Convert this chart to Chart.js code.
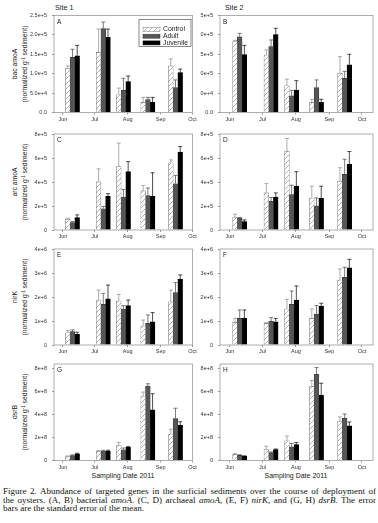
<!DOCTYPE html>
<html lang="en">
<head>
<meta charset="UTF-8">
<title>Figure 2 - gene abundance</title>
<script src="https://cdn.jsdelivr.net/npm/chart.js@4.4.1/dist/chart.umd.min.js"></script>
<style>
  html, body { margin: 0; padding: 0; background: #fff; }
  body { width: 378px; height: 523px; position: relative; overflow: hidden;
         font-family: 'Liberation Sans', Arial, sans-serif; color: #222; }
  canvas { position: absolute; }
  .lbl { position: absolute; white-space: nowrap; line-height: 1; }
  .site { font-size: 7.2px; }
  .xtitle { font-size: 7px; transform: translateX(-50%); }
  .ytitle { position: absolute; width: 120px; height: 20px; line-height: 10px; font-size: 6.8px;
            text-align: center; white-space: nowrap; transform: rotate(-90deg); }
  .ytitle sup { font-size: 4.5px; vertical-align: 2px; line-height: 0; }
  .caption { position: absolute; left: 3px; top: 487px; width: 373px;
             font-family: 'Liberation Serif', 'Times New Roman', serif; font-size: 9px; line-height: 8.5px; color: #111; }
  .caption div { white-space: nowrap; }
  .caption .j { text-align: justify; text-align-last: justify; white-space: normal; }
</style>
</head>
<body>

<div class="lbl site" style="left:55px; top:4px;">Site 1</div>
<div class="lbl site" style="left:225px; top:4px;">Site 2</div>

<div class="ytitle" style="left:-40px; top:54px;">bac amoA<br>(normalized g<sup>-1</sup> sediment)</div>
<div class="ytitle" style="left:-40px; top:172px;">arc amoA<br>(normalized g<sup>-1</sup> sediment)</div>
<div class="ytitle" style="left:-40px; top:287px;">nirK<br>(normalized g<sup>-1</sup> sediment)</div>
<div class="ytitle" style="left:-40px; top:402px;">dsrB<br>(normalized g<sup>-1</sup> sediment)</div>

<div class="lbl xtitle" style="left:123px; top:472px;">Sampling Date 2011</div>
<div class="lbl xtitle" style="left:296px; top:472px;">Sampling Date 2011</div>

<div class="caption">
  <div class="j">Figure 2. Abundance of targeted genes in the surficial sediments over the course of deployment of</div>
  <div class="j">the oysters. (A, B) bacterial <i>amoA</i>. (C, D) archaeal <i>amoA</i>, (E, F) <i>nirK</i>, and (G, H) <i>dsrB</i>. The error</div>
  <div>bars are the standard error of the mean.</div>
</div>

<script>
// sampling dates, day of year 2011
const sampleDays = [161, 190, 209, 232, 258];
const monthDays = [152, 182, 213, 244, 274];
const monthLabels = ['Jun', 'Jul', 'Aug', 'Sep', 'Oct'];

// y tick values and labels per gene
const bacTicks = [0, 5e4, 1e5, 1.5e5, 2e5, 2.5e5];
const bacTickLabels = ['0.0', '5.0e+4', '1.0e+5', '1.5e+5', '2.0e+5', '2.5e+5'];
const arcTicks = [0, 2e5, 4e5, 6e5, 8e5];
const arcTickLabels = ['0', '2e+5', '4e+5', '6e+5', '8e+5'];
const nirTicks = [0, 1e6, 2e6, 3e6, 4e6];
const nirTickLabels = ['0', '1e+6', '2e+6', '3e+6', '4e+6'];
const dsrTicks = [0, 2e8, 4e8, 6e8, 8e8];
const dsrTickLabels = ['0', '2e+8', '4e+8', '6e+8', '8e+8'];

// A - bacterial amoA, site 1
const bacS1Control = [1.14e5, 1.55e5, 0.455e5, 0.26e5, 1.20e5];
const bacS1ControlSE = [0.06e5, 0.60e5, 0.175e5, 0.13e5, 0.18e5];
const bacS1Adult = [1.42e5, 2.16e5, 0.57e5, 0.33e5, 0.64e5];
const bacS1AdultSE = [0.21e5, 0.17e5, 0.31e5, 0.06e5, 0.20e5];
const bacS1Juvenile = [1.46e5, 1.94e5, 0.80e5, 0.26e5, 1.03e5];
const bacS1JuvenileSE = [0.27e5, 0.21e5, 0.14e5, 0.13e5, 0.09e5];

// B - bacterial amoA, site 2
const bacS2Control = [1.83e5, 1.48e5, 0.69e5, 0.26e5, 1.01e5];
const bacS2ControlSE = [0.03e5, 0.13e5, 0.17e5, 0.08e5, 0.43e5];
const bacS2Adult = [1.95e5, 1.70e5, 0.43e5, 0.64e5, 0.88e5];
const bacS2AdultSE = [0.09e5, 0.17e5, 0.14e5, 0.20e5, 0.18e5];
const bacS2Juvenile = [1.49e5, 2.01e5, 0.58e5, 0.26e5, 1.23e5];
const bacS2JuvenileSE = [0.24e5, 0.16e5, 0.24e5, 0.08e5, 0.27e5];

// C - archaeal amoA, site 1
const arcS1Control = [0.90e5, 4.01e5, 5.28e5, 3.26e5, 5.60e5];
const arcS1ControlSE = [0.08e5, 1.09e5, 1.96e5, 0.44e5, 0.24e5];
const arcS1Adult = [0.62e5, 1.77e5, 2.75e5, 2.86e5, 3.85e5];
const arcS1AdultSE = [0.08e5, 0.19e5, 0.62e5, 0.64e5, 0.70e5];
const arcS1Juvenile = [1.04e5, 2.80e5, 4.86e5, 2.80e5, 6.50e5];
const arcS1JuvenileSE = [0.22e5, 0.23e5, 0.84e5, 1.97e5, 0.46e5];

// D - archaeal amoA, site 2
const arcS2Control = [1.07e5, 3.09e5, 6.57e5, 2.67e5, 4.07e5];
const arcS2ControlSE = [0.25e5, 0.78e5, 1.06e5, 0.98e5, 1.12e5];
const arcS2Adult = [0.98e5, 2.39e5, 2.95e5, 2.02e5, 4.63e5];
const arcS2AdultSE = [0.06e5, 0.33e5, 0.78e5, 0.65e5, 1.27e5];
const arcS2Juvenile = [0.70e5, 2.75e5, 3.65e5, 2.64e5, 5.47e5];
const arcS2JuvenileSE = [0.14e5, 0.34e5, 1.21e5, 1.01e5, 1.07e5];

// E - nirK, site 1
const nirS1Control = [0.51e6, 1.875e6, 1.83e6, 0.79e6, 1.80e6];
const nirS1ControlSE = [0.09e6, 0.415e6, 0.28e6, 0.25e6, 0.49e6];
const nirS1Adult = [0.56e6, 1.69e6, 1.50e6, 0.90e6, 2.18e6];
const nirS1AdultSE = [0.07e6, 0.46e6, 0.14e6, 0.35e6, 0.42e6];
const nirS1Juvenile = [0.44e6, 1.92e6, 1.64e6, 0.97e6, 2.74e6];
const nirS1JuvenileSE = [0.09e6, 0.58e6, 0.235e6, 0.38e6, 0.18e6];

// F - nirK, site 2
const nirS2Control = [0.94e6, 0.90e6, 1.50e6, 1.11e6, 2.71e6];
const nirS2ControlSE = [0.17e6, 0.04e6, 0.40e6, 0.39e6, 0.46e6];
const nirS2Adult = [1.11e6, 1.00e6, 1.69e6, 1.29e6, 2.82e6];
const nirS2AdultSE = [0.35e6, 0.14e6, 0.56e6, 0.35e6, 0.42e6];
const nirS2Juvenile = [1.11e6, 0.97e6, 1.875e6, 1.625e6, 3.22e6];
const nirS2JuvenileSE = [0.35e6, 0.14e6, 0.585e6, 0.115e6, 0.35e6];

// G - dsrB, site 1
const dsrS1Control = [0.35e8, 0.81e8, 1.30e8, 5.61e8, 2.30e8];
const dsrS1ControlSE = [0.05e8, 0.05e8, 0.28e8, 0.35e8, 0.43e8];
const dsrS1Adult = [0.43e8, 0.83e8, 0.92e8, 6.48e8, 3.65e8];
const dsrS1AdultSE = [0.06e8, 0.06e8, 0.17e8, 0.20e8, 0.90e8];
const dsrS1Juvenile = [0.58e8, 0.83e8, 1.15e8, 4.40e8, 3.08e8];
const dsrS1JuvenileSE = [0.05e8, 0.06e8, 0.06e8, 1.41e8, 0.29e8];

// H - dsrB, site 2
const dsrS2Control = [0.53e8, 0.95e8, 1.72e8, 6.46e8, 3.41e8];
const dsrS2ControlSE = [0.06e8, 0.29e8, 0.41e8, 0.50e8, 0.38e8];
const dsrS2Adult = [0.44e8, 0.68e8, 1.19e8, 7.50e8, 3.70e8];
const dsrS2AdultSE = [0.06e8, 0.06e8, 0.29e8, 0.59e8, 0.35e8];
const dsrS2Juvenile = [0.36e8, 0.95e8, 1.39e8, 5.69e8, 3.02e8];
const dsrS2JuvenileSE = [0.05e8, 0.05e8, 0.18e8, 1.04e8, 0.33e8];

Chart.defaults.font.family = "'Liberation Sans', Arial, sans-serif";
Chart.defaults.color = '#333';

// white bars with diagonal hatch for the control
function makeHatch() {
    const c = document.createElement('canvas');
    c.width = 5; c.height = 5;
    const g = c.getContext('2d');
    g.fillStyle = '#fff';
    g.fillRect(0, 0, 5, 5);
    g.strokeStyle = '#808080';
    g.lineWidth = 0.6;
    g.beginPath();
    g.moveTo(0, 5); g.lineTo(5, 0);
    g.moveTo(-1, 1); g.lineTo(1, -1);
    g.moveTo(4, 6); g.lineTo(6, 4);
    g.stroke();
    return g.createPattern(c, 'repeat');
}
const hatch = makeHatch();

// plot area positions of the two columns and four rows
const cols = [
    { left: 0, width: 200, plotLeft: 54, plotRight: 192.5, xmin: 143.6, xmax: 274 },
    { left: 200, width: 178, plotLeft: 220, plotRight: 373, xmin: 142.8, xmax: 284.2 }
];
const rows = [
    { top: 15.5, bottom: 112.5, max: 2.5e5, ticks: bacTicks, labels: bacTickLabels },
    { top: 134, bottom: 230, max: 8e5, ticks: arcTicks, labels: arcTickLabels },
    { top: 249, bottom: 345, max: 4e6, ticks: nirTicks, labels: nirTickLabels },
    { top: 364, bottom: 460.5, max: 8.4e8, ticks: dsrTicks, labels: dsrTickLabels }
];

const decor = {
    id: 'decor',
    afterDatasetsDraw(chart) {
        const ctx = chart.ctx;
        const a = chart.chartArea;
        const y = chart.scales.y;
        ctx.save();
        // error bars (upper half only)
        chart.data.datasets.forEach((ds, i) => {
            const meta = chart.getDatasetMeta(i);
            ctx.strokeStyle = ds.errColor;
            ctx.lineWidth = 0.7;
            meta.data.forEach((bar, j) => {
                const top = y.getPixelForValue(ds.data[j].y + ds.errors[j]);
                ctx.beginPath();
                ctx.moveTo(bar.x, bar.y);
                ctx.lineTo(bar.x, top);
                ctx.moveTo(bar.x - 2, top);
                ctx.lineTo(bar.x + 2, top);
                ctx.stroke();
            });
        });
        // frame
        ctx.strokeStyle = '#9a9a9a';
        ctx.lineWidth = 0.8;
        ctx.strokeRect(a.left, a.top, a.right - a.left, a.bottom - a.top);
        // panel letter
        ctx.fillStyle = '#222';
        ctx.font = "6.5px 'Liberation Sans', Arial, sans-serif";
        ctx.textBaseline = 'middle';
        ctx.fillText(chart.options.panelLetter, a.left + 3, a.top + 6.5);
        // legend, panel A only
        if (chart.options.showLegend) {
            const bx = a.right - 53.5, by = a.top + 4;
            ctx.strokeStyle = '#555';
            ctx.lineWidth = 0.7;
            ctx.strokeRect(bx, by, 52, 27);
            ctx.font = "6.8px 'Liberation Sans', Arial, sans-serif";
            chart.data.datasets.forEach((ds, i) => {
                const ty = by + 10 + i * 6.7;
                ctx.fillStyle = ds.backgroundColor;
                ctx.fillRect(bx + 4, ty - 2, 17, 4);
                ctx.strokeStyle = ds.borderColor;
                ctx.lineWidth = 0.5;
                ctx.strokeRect(bx + 4, ty - 2, 17, 4);
                ctx.fillStyle = '#222';
                ctx.fillText(ds.label, bx + 24, ty);
            });
        }
        ctx.restore();
    }
};

function xy(values) {
    return values.map((v, i) => ({ x: sampleDays[i], y: v }));
}

function makePanel(col, row, letter, ctrl, ctrlSE, adult, adultSE, juv, juvSE, legend) {
    const c = cols[col], r = rows[row];
    const cv = document.createElement('canvas');
    const top = Math.floor(r.top - 10);
    const height = Math.ceil(r.bottom - top + 14);
    cv.width = c.width;
    cv.height = height;
    cv.style.left = c.left + 'px';
    cv.style.top = top + 'px';
    document.body.appendChild(cv);

    new Chart(cv, {
        type: 'bar',
        data: {
            datasets: [
                { label: 'Control', data: xy(ctrl), errors: ctrlSE, backgroundColor: hatch,
                  borderColor: '#7a7a7a', borderWidth: 0.6, errColor: '#8a8a8a' },
                { label: 'Adult', data: xy(adult), errors: adultSE, backgroundColor: '#565656',
                  borderColor: '#333', borderWidth: 0.6, errColor: '#444' },
                { label: 'Juvenile', data: xy(juv), errors: juvSE, backgroundColor: '#000',
                  borderColor: '#000', borderWidth: 0.6, errColor: '#000' }
            ]
        },
        options: {
            responsive: false,
            animation: false,
            devicePixelRatio: 1,
            panelLetter: letter,
            showLegend: legend,
            layout: { padding: { left: 0, top: r.top - top, right: c.left + c.width - c.plotRight, bottom: 0 } },
            datasets: { bar: { barThickness: 4.7, borderSkipped: 'start' } },
            plugins: { legend: { display: false }, tooltip: { enabled: false }, title: { display: false } },
            scales: {
                x: {
                    type: 'linear', min: c.xmin, max: c.xmax, offset: false,
                    grid: { offset: false, drawOnChartArea: false, tickLength: 2, color: '#999' },
                    border: { display: false },
                    ticks: { font: { size: 5.5 }, color: '#333', padding: 1.5, maxRotation: 0, autoSkip: false,
                             callback: v => monthLabels[monthDays.indexOf(v)] },
                    afterBuildTicks: s => { s.ticks = monthDays.map(v => ({ value: v })); },
                    afterFit: s => { s.height = height - (r.bottom - top); }
                },
                y: {
                    min: 0, max: r.max,
                    grid: { drawOnChartArea: false, tickLength: 2, color: '#999' },
                    border: { display: false },
                    ticks: { font: { size: 5.5 }, color: '#333', padding: 5,
                             callback: v => { const k = r.ticks.indexOf(v); return k < 0 ? '' : r.labels[k]; } },
                    afterBuildTicks: s => { s.ticks = r.ticks.map(v => ({ value: v })); },
                    afterFit: s => { s.width = c.plotLeft - c.left; }
                }
            }
        },
        plugins: [decor]
    });
}

makePanel(0, 0, 'A', bacS1Control, bacS1ControlSE, bacS1Adult, bacS1AdultSE, bacS1Juvenile, bacS1JuvenileSE, true);
makePanel(1, 0, 'B', bacS2Control, bacS2ControlSE, bacS2Adult, bacS2AdultSE, bacS2Juvenile, bacS2JuvenileSE, false);
makePanel(0, 1, 'C', arcS1Control, arcS1ControlSE, arcS1Adult, arcS1AdultSE, arcS1Juvenile, arcS1JuvenileSE, false);
makePanel(1, 1, 'D', arcS2Control, arcS2ControlSE, arcS2Adult, arcS2AdultSE, arcS2Juvenile, arcS2JuvenileSE, false);
makePanel(0, 2, 'E', nirS1Control, nirS1ControlSE, nirS1Adult, nirS1AdultSE, nirS1Juvenile, nirS1JuvenileSE, false);
makePanel(1, 2, 'F', nirS2Control, nirS2ControlSE, nirS2Adult, nirS2AdultSE, nirS2Juvenile, nirS2JuvenileSE, false);
makePanel(0, 3, 'G', dsrS1Control, dsrS1ControlSE, dsrS1Adult, dsrS1AdultSE, dsrS1Juvenile, dsrS1JuvenileSE, false);
makePanel(1, 3, 'H', dsrS2Control, dsrS2ControlSE, dsrS2Adult, dsrS2AdultSE, dsrS2Juvenile, dsrS2JuvenileSE, false);
</script>
</body>
</html>
